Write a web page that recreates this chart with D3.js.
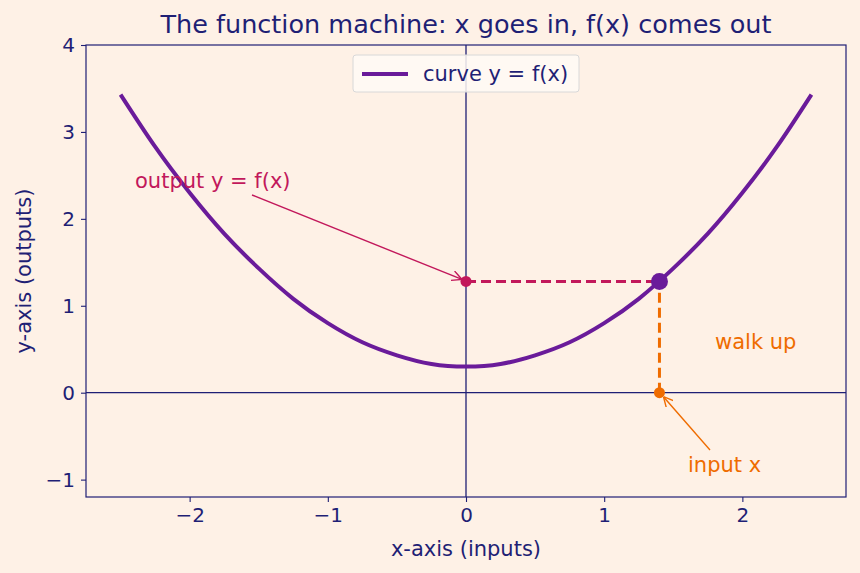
<!DOCTYPE html>
<html><head><meta charset="utf-8">
<script src="https://cdn.jsdelivr.net/npm/d3@7"></script>
<style>
html,body{margin:0;padding:0;background:#fef1e6;}
svg{display:block;font-family:"DejaVu Sans",sans-serif;}
</style></head>
<body><svg id="c" width="860" height="573"></svg>
<script>
// Data
const curveX = [-2.5,-2.25,-2,-1.75,-1.5,-1.25,-1,-0.75,-0.5,-0.25,0,0.25,0.5,0.75,1,1.25,1.5,1.75,2,2.25,2.5];
const curveY = [3.43,2.83,2.3,1.83,1.43,1.08,0.8,0.58,0.43,0.33,0.3,0.33,0.43,0.58,0.8,1.08,1.43,1.83,2.3,2.83,3.43];
const inputX = 1.4;
const outputY = 1.28;
const xTicks = [-2,-1,0,1,2];
const yTicks = [-1,0,1,2,3,4];
const xDomain = [-2.75, 2.75];
const yDomain = [-1.2, 4];

const navy = "#1f1f75", purple = "#6a1b9a", crimson = "#c2185b", orange = "#ef6c00";
const W = 860, H = 573;
const m = {l:86, r:14, t:45, b:76};
const svg = d3.select("#c");
svg.append("rect").attr("width",W).attr("height",H).attr("fill","#fef1e6");

const x = d3.scaleLinear().domain(xDomain).range([m.l, W-m.r]);
const y = d3.scaleLinear().domain(yDomain).range([H-m.b, m.t]);

const defs = svg.append("defs");
function marker(id,color){
  defs.append("marker").attr("id",id).attr("viewBox","0 0 10 10").attr("refX",10).attr("refY",5)
    .attr("markerWidth",10).attr("markerHeight",10).attr("markerUnits","userSpaceOnUse").attr("orient","auto")
    .append("path").attr("d","M0,0 L10,5 L0,10").attr("fill","none").attr("stroke",color).attr("stroke-width",1.4);
}
marker("ac",crimson); marker("ao",orange);

// zero lines
svg.append("line").attr("x1",x(0)).attr("x2",x(0)).attr("y1",m.t).attr("y2",H-m.b).attr("stroke",navy).attr("stroke-width",1.3);
svg.append("line").attr("x1",m.l).attr("x2",W-m.r).attr("y1",y(0)).attr("y2",y(0)).attr("stroke",navy).attr("stroke-width",1.3);

// axes
const fmt = d=>d<0?"\u2212"+Math.abs(d):d;
const gx = svg.append("g").attr("transform",`translate(0,${H-m.b})`)
  .call(d3.axisBottom(x).tickValues(xTicks).tickSize(5).tickPadding(6).tickFormat(fmt));
const gy = svg.append("g").attr("transform",`translate(${m.l},0)`)
  .call(d3.axisLeft(y).tickValues(yTicks).tickSize(5).tickPadding(6).tickFormat(fmt));
[gx,gy].forEach(g=>{
  g.select(".domain").remove();
  g.selectAll("line").attr("stroke",navy).attr("stroke-width",1.1);
  g.selectAll("text").attr("fill",navy).attr("font-size",20).attr("font-family","DejaVu Sans");
});
// frame
svg.append("rect").attr("x",m.l).attr("y",m.t).attr("width",W-m.l-m.r).attr("height",H-m.t-m.b)
  .attr("fill","none").attr("stroke",navy).attr("stroke-width",1.2);

// curve
const pts = curveX.map((v,i)=>[v,curveY[i]]);
svg.append("path").datum(pts).attr("fill","none").attr("stroke",purple).attr("stroke-width",4)
  .attr("d",d3.line().x(d=>x(d[0])).y(d=>y(d[1])).curve(d3.curveNatural));

// dashed guides
svg.append("line").attr("x1",x(0)).attr("x2",x(inputX)).attr("y1",y(outputY)).attr("y2",y(outputY))
  .attr("stroke",crimson).attr("stroke-width",3).attr("stroke-dasharray","10,5");
svg.append("line").attr("x1",x(inputX)).attr("x2",x(inputX)).attr("y1",y(0)).attr("y2",y(outputY))
  .attr("stroke",orange).attr("stroke-width",3).attr("stroke-dasharray","10,5");

// points
svg.append("circle").attr("cx",x(0)).attr("cy",y(outputY)).attr("r",5.5).attr("fill",crimson);
svg.append("circle").attr("cx",x(inputX)).attr("cy",y(0)).attr("r",5.5).attr("fill",orange);
svg.append("circle").attr("cx",x(inputX)).attr("cy",y(outputY)).attr("r",8.5).attr("fill",purple);

// annotations
svg.append("text").attr("x",135).attr("y",188).attr("fill",crimson).attr("font-size",21).text("output y = f(x)");
svg.append("line").attr("x1",252).attr("y1",195).attr("x2",x(0)-4).attr("y2",y(outputY)-2)
  .attr("stroke",crimson).attr("stroke-width",1.4).attr("marker-end","url(#ac)");
svg.append("text").attr("x",715).attr("y",349).attr("fill",orange).attr("font-size",21).text("walk up");
svg.append("text").attr("x",688).attr("y",472).attr("fill",orange).attr("font-size",21).text("input x");
svg.append("line").attr("x1",710).attr("y1",450).attr("x2",x(inputX)+4).attr("y2",y(0)+4)
  .attr("stroke",orange).attr("stroke-width",1.4).attr("marker-end","url(#ao)");

// legend
const lg = svg.append("g");
lg.append("rect").attr("x",353).attr("y",55).attr("width",226).attr("height",37).attr("rx",3)
  .attr("fill","#fffaf5").attr("fill-opacity",0.85).attr("stroke","#d8d8d8").attr("stroke-width",1);
lg.append("line").attr("x1",362).attr("x2",408).attr("y1",74).attr("y2",74).attr("stroke",purple).attr("stroke-width",4);
lg.append("text").attr("x",423).attr("y",81).attr("fill",navy).attr("font-size",21).text("curve y = f(x)");

// titles
svg.append("text").attr("x",466).attr("y",33).attr("text-anchor","middle").attr("fill",navy)
  .attr("font-size",25.5).text("The function machine: x goes in, f(x) comes out");
svg.append("text").attr("x",466).attr("y",556).attr("text-anchor","middle").attr("fill",navy).attr("font-size",21).text("x-axis (inputs)");
svg.append("text").attr("transform",`translate(31,271) rotate(-90)`).attr("text-anchor","middle").attr("fill",navy).attr("font-size",21).text("y-axis (outputs)");
</script></body></html>
